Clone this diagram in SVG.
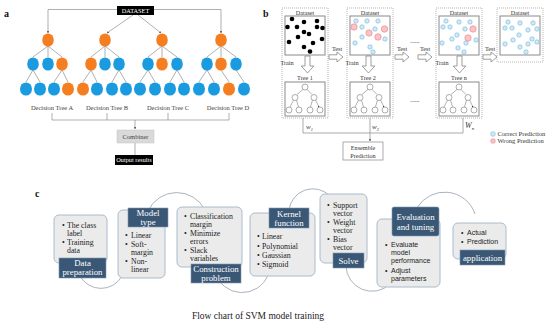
<svg xmlns="http://www.w3.org/2000/svg" width="550" height="324" viewBox="0 0 550 324">
<style>
text{font-family:"Liberation Serif","Times New Roman",serif;}
.pl{font-size:10px;font-weight:bold;fill:#111;}
.b{fill:#1a9be0;}
.o{fill:#f57f20;}
.e{stroke:#7a7a7a;stroke-width:0.6;fill:none;}
.ta{font-size:6.5px;fill:#444;text-anchor:middle;}
.wt{fill:#fff;text-anchor:middle;}
.dot{stroke:#999;stroke-width:0.7;stroke-dasharray:1 1;fill:#fff;}
.in{stroke:#8a8a8a;stroke-width:1;fill:#fff;}
.bk{fill:#000;}
.cb{fill:#d3eaf6;stroke:#6fb6dc;stroke-width:0.6;}
.cr{fill:#f8c4c6;stroke:#ec7f86;stroke-width:0.6;}
.tn{fill:#fff;stroke:#777;stroke-width:0.6;}
.tl{stroke:#666;stroke-width:0.5;fill:none;}
.tb{font-size:6.2px;fill:#333;text-anchor:middle;}
.ar{fill:#fff;stroke:#777;stroke-width:0.7;}
.cn{stroke:#888;stroke-width:0.7;fill:none;}
.box{fill:#ebebeb;stroke:#a9bccd;stroke-width:1;}
.lab{fill:#3a5876;stroke:#7f98b0;stroke-width:0.6;}
.lt{font-size:8.8px;fill:#fff;text-anchor:middle;}
.bt{font-size:7.8px;fill:#222;}
.bs{font-family:"Liberation Sans",Arial,sans-serif;font-size:7px;fill:#222;}
.arc{stroke:#aab4be;stroke-width:1;fill:none;}
</style>
<defs>
<marker id="ah" viewBox="0 0 6 6" refX="5" refY="3" markerWidth="4" markerHeight="4" orient="auto"><path d="M0 0L6 3L0 6Z" fill="#666"/></marker>
<marker id="sh" viewBox="0 0 6 6" refX="5" refY="3" markerWidth="3" markerHeight="3" orient="auto"><path d="M0 0L6 3L0 6Z" fill="#222"/></marker>
<g id="minitree">
<path class="tl" d="M21 89.5L15 94.5M25 89.5L30 94.5M11.5 100L8 107M14.5 100L16.5 107M30.5 100L28.5 107M33.5 100L37 107" marker-end="url(#sh)"/>
<circle class="tn" cx="23" cy="87" r="3"/>
<circle class="tn" cx="13" cy="97.5" r="3"/>
<circle class="tn" cx="32" cy="97.5" r="3"/>
<circle class="tn" cx="7" cy="110" r="3"/>
<circle class="tn" cx="17" cy="110" r="3"/>
<circle class="tn" cx="28" cy="110" r="3"/>
<circle class="tn" cx="38" cy="110" r="3"/>
</g>
</defs>
<rect width="550" height="324" fill="#fff"/>

<!-- Panel a -->
<text class="pl" x="4" y="17">a</text>
<g id="connectors-a">
<path class="e" d="M117 9.5H48V33" marker-end="url(#ah)"/>
<path class="e" d="M154 9.5H221V33" marker-end="url(#ah)"/>
<path class="e" d="M133 15L107 33" marker-end="url(#ah)"/>
<path class="e" d="M138 15L161 33" marker-end="url(#ah)"/>
<path class="e" d="M48 46L33 57M48 46V57M48 46L62 57M33 70L26 82M33 70L40 82M62 70L54 82M62 70L68 82"/>
<path class="e" d="M105 46L91 57M105 46V57M105 46L119 57M91 70L83 82M91 70L97 82M119 70L112 82M119 70L126 82"/>
<path class="e" d="M162 46L148 57M162 46V57M162 46L177 57M148 70L140 82M148 70L155 82M177 70L170 82M177 70L184 82"/>
<path class="e" d="M221 46L207 57M221 46V57M221 46L236 57M207 70L199 82M207 70L214 82M221 70L229 82M236 70L244 82"/>
<path class="e" d="M52 113V120M107 113V120M168 113V120M229 113V120M52 120H229"/>
<path class="e" d="M135 120V129" marker-end="url(#ah)"/>
<path class="e" d="M135 143V155"/>
</g>
<g id="dataset-a"><rect x="117" y="6" width="37" height="9" class="bk"/><text class="wt" x="135.5" y="12.8" font-size="6.3">DATASET</text></g>
<g id="tree-a">
<ellipse class="o" cx="48" cy="40" rx="5.8" ry="6.6"/>
<ellipse class="b" cx="33" cy="64" rx="5.8" ry="6.6"/><ellipse class="b" cx="48" cy="64" rx="5.8" ry="6.6"/><ellipse class="o" cx="62" cy="64" rx="5.8" ry="6.6"/>
<ellipse class="b" cx="26" cy="89" rx="6" ry="6.6"/><ellipse class="b" cx="40" cy="89" rx="6" ry="6.6"/><ellipse class="b" cx="54" cy="89" rx="6" ry="6.6"/><ellipse class="o" cx="68" cy="89" rx="6" ry="6.6"/>
<text class="ta" x="52" y="109.5">Decision Tree A</text>
</g>
<g id="tree-b">
<ellipse class="o" cx="105" cy="40" rx="5.8" ry="6.6"/>
<ellipse class="o" cx="91" cy="64" rx="5.8" ry="6.6"/><ellipse class="b" cx="105" cy="64" rx="5.8" ry="6.6"/><ellipse class="b" cx="119" cy="64" rx="5.8" ry="6.6"/>
<ellipse class="o" cx="83" cy="89" rx="6" ry="6.6"/><ellipse class="b" cx="97" cy="89" rx="6" ry="6.6"/><ellipse class="b" cx="112" cy="89" rx="6" ry="6.6"/><ellipse class="b" cx="126" cy="89" rx="6" ry="6.6"/>
<text class="ta" x="107" y="109.5">Decision Tree B</text>
</g>
<g id="tree-c">
<ellipse class="o" cx="162" cy="40" rx="5.8" ry="6.6"/>
<ellipse class="b" cx="148" cy="64" rx="5.8" ry="6.6"/><ellipse class="o" cx="162" cy="64" rx="5.8" ry="6.6"/><ellipse class="b" cx="177" cy="64" rx="5.8" ry="6.6"/>
<ellipse class="b" cx="140" cy="89" rx="6" ry="6.6"/><ellipse class="b" cx="155" cy="89" rx="6" ry="6.6"/><ellipse class="b" cx="170" cy="89" rx="6" ry="6.6"/><ellipse class="b" cx="184" cy="89" rx="6" ry="6.6"/>
<text class="ta" x="168" y="109.5">Decision Tree C</text>
</g>
<g id="tree-d">
<ellipse class="o" cx="221" cy="40" rx="5.8" ry="6.6"/>
<ellipse class="b" cx="207" cy="64" rx="5.8" ry="6.6"/><ellipse class="o" cx="221" cy="64" rx="5.8" ry="6.6"/><ellipse class="b" cx="236" cy="64" rx="5.8" ry="6.6"/>
<ellipse class="b" cx="199" cy="89" rx="6" ry="6.6"/><ellipse class="b" cx="214" cy="89" rx="6" ry="6.6"/><ellipse class="o" cx="229" cy="89" rx="6" ry="6.6"/><ellipse class="b" cx="244" cy="89" rx="6" ry="6.6"/>
<text class="ta" x="228" y="109.5">Decision Tree D</text>
</g>
<g id="combiner"><rect x="117" y="130" width="37" height="13" fill="#d9d9d9" stroke="#c4c4c4" stroke-width="0.5"/><text class="ta" x="135.5" y="138.6" font-size="6.3" fill="#333">Combiner</text></g>
<g id="output"><rect x="115" y="155" width="38" height="10" class="bk"/><text class="wt" x="134" y="162.3" font-size="6.3">Output results</text></g>

<!-- Panel b -->
<text class="pl" x="263" y="17">b</text>
<g id="col1">
<rect class="dot" x="282" y="8" width="46" height="110"/>
<rect class="in" x="285" y="16" width="40" height="39"/>
<text class="tb" x="305" y="15" font-size="6.5">Dataset</text>
<g class="bk">
<circle cx="292" cy="19" r="2.3"/><circle cx="304" cy="22" r="2.3"/><circle cx="317" cy="21" r="2.3"/><circle cx="287.5" cy="27" r="2.3"/><circle cx="297" cy="27" r="2.3"/><circle cx="304" cy="32" r="2.3"/><circle cx="309" cy="34" r="2.3"/><circle cx="317" cy="27" r="2.3"/><circle cx="322.5" cy="28" r="2.3"/><circle cx="298" cy="37" r="2.3"/><circle cx="322" cy="39" r="2.3"/><circle cx="289" cy="42" r="2.3"/><circle cx="304" cy="47" r="2.3"/><circle cx="313" cy="43" r="2.3"/><circle cx="310" cy="51.5" r="2.3"/>
</g>
<path class="ar" d="M305 56H310V66H313.8L307.5 73L301.2 66H305Z"/>
<text class="tb" x="287" y="65" text-anchor="start">Train</text>
<text class="tb" x="305" y="79.5">Tree 1</text>
<rect class="in" x="285" y="82" width="40" height="34"/>
<use href="#minitree" x="282"/>
</g>
<g id="col2">
<rect class="dot" x="347" y="8" width="46" height="110"/>
<rect class="in" x="350" y="16" width="40" height="39"/>
<text class="tb" x="370" y="15" font-size="6.5">Dataset</text>
<circle class="cb" cx="356" cy="21" r="2.2"/><circle class="cb" cx="367" cy="21" r="2.2"/><circle class="cb" cx="378" cy="21" r="2.2"/><circle class="cb" cx="362" cy="27" r="2.2"/><circle class="cb" cx="375" cy="29" r="2.2"/><circle class="cb" cx="355" cy="43" r="2.2"/><circle class="cb" cx="362" cy="37" r="2.2"/><circle class="cb" cx="370" cy="47" r="2.2"/><circle class="cb" cx="373" cy="52" r="2.2"/><circle class="cb" cx="385" cy="39" r="2.2"/>
<circle class="cr" cx="354" cy="27" r="3.2"/><circle class="cr" cx="369" cy="33" r="3.2"/><circle class="cr" cx="378" cy="37" r="3.2"/><circle class="cr" cx="384.5" cy="29" r="3.2"/>
<path class="ar" d="M366 56H371V66H374.8L368.5 73L362.2 66H366Z"/>
<text class="tb" x="352" y="65" text-anchor="start">Train</text>
<text class="tb" x="368" y="79.5">Tree 2</text>
<rect class="in" x="350" y="82" width="40" height="34"/>
<use href="#minitree" x="347"/>
</g>
<g id="col3">
<rect class="dot" x="436" y="8" width="46" height="110"/>
<rect class="in" x="439" y="16" width="40" height="39"/>
<text class="tb" x="459" y="15" font-size="6.5">Dataset</text>
<circle class="cb" cx="446" cy="21" r="2.2"/><circle class="cb" cx="459" cy="22" r="2.2"/><circle class="cb" cx="470" cy="22" r="2.2"/><circle class="cb" cx="443" cy="27" r="2.2"/><circle class="cb" cx="450" cy="27" r="2.2"/><circle class="cb" cx="465" cy="29" r="2.2"/><circle class="cb" cx="457" cy="35" r="2.2"/><circle class="cb" cx="452" cy="39" r="2.2"/><circle class="cb" cx="466" cy="43" r="2.2"/><circle class="cb" cx="476" cy="40" r="2.2"/><circle class="cb" cx="442" cy="43" r="2.2"/><circle class="cb" cx="458" cy="48" r="2.2"/><circle class="cb" cx="464" cy="52" r="2.2"/>
<circle class="cr" cx="473" cy="29" r="3.2"/><circle class="cr" cx="468" cy="38" r="3.2"/>
<path class="ar" d="M457 56H462V66H465.8L459.5 73L453.2 66H457Z"/>
<text class="tb" x="442" y="65" text-anchor="start">Train</text>
<text class="tb" x="459" y="79.5">Tree n</text>
<rect class="in" x="439" y="82" width="40" height="34"/>
<use href="#minitree" x="436"/>
</g>
<g id="col4">
<rect class="dot" x="497" y="8" width="46" height="54"/>
<rect class="in" x="500" y="16" width="40" height="39"/>
<text class="tb" x="520" y="15" font-size="6.5">Dataset</text>
<circle class="cb" cx="508" cy="22" r="2.2"/><circle class="cb" cx="520" cy="23" r="2.2"/><circle class="cb" cx="533" cy="23" r="2.2"/><circle class="cb" cx="505" cy="28" r="2.2"/><circle class="cb" cx="512" cy="28" r="2.2"/><circle class="cb" cx="528" cy="30" r="2.2"/><circle class="cb" cx="537" cy="29" r="2.2"/><circle class="cb" cx="519" cy="35" r="2.2"/><circle class="cb" cx="513" cy="40" r="2.2"/><circle class="cb" cx="532" cy="39" r="2.2"/><circle class="cb" cx="537" cy="42" r="2.2"/><circle class="cb" cx="505" cy="44" r="2.2"/><circle class="cb" cx="528" cy="44" r="2.2"/><circle class="cb" cx="520" cy="47" r="2.2"/><circle class="cb" cx="526" cy="52" r="2.2"/>
</g>
<g id="connectors-b">
<path class="ar" d="M329 54.8H337V52L343 57L337 62V59.2H329Z"/>
<path class="ar" d="M395 54.8H403V52L409 57L403 62V59.2H395Z"/>
<path class="ar" d="M418 54.8H426V52L432 57L426 62V59.2H418Z"/>
<path class="ar" d="M483 54.8H491V52L497 57L491 62V59.2H483Z"/>
<path class="cn" d="M303 118V133H463V118"/>
<path class="cn" d="M370 118V141" marker-end="url(#ah)"/>
</g>
<text class="tb" x="337" y="51">Test</text>
<text class="tb" x="402" y="51">Test</text>
<text class="tb" x="425" y="51">Test</text>
<text class="tb" x="490" y="51">Test</text>
<text class="tb" x="415" y="43">......</text>
<text class="tb" x="415" y="102">......</text>
<text x="306" y="129" font-size="7" font-style="italic" fill="#333">w<tspan font-size="4.5" dy="1.5">1</tspan></text>
<text x="372" y="129" font-size="7" font-style="italic" fill="#333">w<tspan font-size="4.5" dy="1.5">2</tspan></text>
<text x="465" y="128" font-size="8" font-style="italic" fill="#333">W<tspan font-size="5" dy="1.8">n</tspan></text>
<g id="ensemble"><rect x="343" y="142" width="40" height="18" fill="#fff" stroke="#888" stroke-width="0.7"/><text class="tb" x="363" y="150" font-size="5.8">Ensemble</text><text class="tb" x="363" y="157.5" font-size="5.8">Prediction</text></g>
<g id="legend">
<circle class="cb" cx="493" cy="134" r="2.3"/><text x="497.5" y="136.3" font-size="6.5" fill="#333">Correct Prediction</text>
<circle class="cr" cx="493" cy="141" r="2.3"/><text x="497.5" y="143.3" font-size="6.5" fill="#333">Wrong Prediction</text>
</g>

<!-- Panel c -->
<text class="pl" x="35" y="197">c</text>
<g id="connectors-c">
<path class="arc" d="M80 276A24 24 0 0 0 122 276"/>
<path class="arc" d="M148 211A31.6 31.6 0 0 1 205 210"/>
<path class="arc" d="M215 272A28 28 0 0 0 268 275"/>
<path class="arc" d="M289 210A24 24 0 0 1 330 196"/>
<path class="arc" d="M346 266A26 26 0 0 0 390 284"/>
<path class="arc" d="M417 208A32 32 0 0 1 475 214"/>
</g>
<g id="data-preparation">
<rect class="box" x="54" y="215" width="53" height="48" rx="5"/>
<text class="bt" x="62" y="228">•</text><text class="bt" x="67" y="228">The class</text>
<text class="bt" x="67" y="236">label</text>
<text class="bt" x="62" y="245">•</text><text class="bt" x="67" y="245">Training</text>
<text class="bt" x="67" y="253">data</text>
<rect class="lab" x="59" y="258" width="47" height="20"/>
<text class="lt" x="82.5" y="266.3">Data</text><text class="lt" x="82.5" y="275.3">preparation</text>
</g>
<g id="model-type">
<rect class="box" x="118" y="210" width="47" height="68" rx="5"/>
<rect class="lab" x="128" y="208" width="40" height="19"/>
<text class="lt" x="148" y="216">Model</text><text class="lt" x="148" y="225">type</text>
<text class="bt" x="125" y="238">•</text><text class="bt" x="131" y="238">Linear</text>
<text class="bt" x="125" y="246.5">•</text><text class="bt" x="131" y="246.5">Soft-</text>
<text class="bt" x="131" y="255">margin</text>
<text class="bt" x="125" y="263.5">•</text><text class="bt" x="131" y="263.5">Non-</text>
<text class="bt" x="131" y="272">linear</text>
</g>
<g id="construction-problem">
<rect class="box" x="177" y="207" width="65" height="60" rx="5"/>
<text class="bt" x="184" y="219">•</text><text class="bt" x="190" y="219">Classification</text>
<text class="bt" x="190" y="227">margin</text>
<text class="bt" x="184" y="236">•</text><text class="bt" x="190" y="236">Minimize</text>
<text class="bt" x="190" y="244">errors</text>
<text class="bt" x="184" y="253">•</text><text class="bt" x="190" y="253">Slack</text>
<text class="bt" x="190" y="261">variables</text>
<rect class="lab" x="191" y="264" width="50" height="19"/>
<text class="lt" x="216" y="271.5">Construction</text><text class="lt" x="216" y="280.5">problem</text>
</g>
<g id="kernel-function">
<rect class="box" x="250" y="213" width="65" height="63" rx="5"/>
<rect class="lab" x="269" y="208" width="40" height="20"/>
<text class="lt" x="289" y="216.5">Kernel</text><text class="lt" x="289" y="225.5">function</text>
<text class="bt" x="257" y="239">•</text><text class="bt" x="262" y="239">Linear</text>
<text class="bt" x="257" y="248.5">•</text><text class="bt" x="262" y="248.5">Polynomial</text>
<text class="bt" x="257" y="258">•</text><text class="bt" x="262" y="258">Gaussian</text>
<text class="bt" x="257" y="267">•</text><text class="bt" x="262" y="267">Sigmoid</text>
</g>
<g id="solve">
<rect class="box" x="320" y="194" width="47" height="69" rx="5"/>
<text class="bt" x="327" y="208">•</text><text class="bt" x="333" y="208">Support</text>
<text class="bt" x="333" y="216">vector</text>
<text class="bt" x="327" y="225">•</text><text class="bt" x="333" y="225">Weight</text>
<text class="bt" x="333" y="233">vector</text>
<text class="bt" x="327" y="242">•</text><text class="bt" x="333" y="242">Bias</text>
<text class="bt" x="333" y="250">vector</text>
<rect class="lab" x="333" y="253" width="31" height="15"/>
<text class="lt" x="348.5" y="263.5">Solve</text>
</g>
<g id="evaluation-tuning">
<rect class="box" x="377" y="219" width="63" height="68" rx="5"/>
<rect class="lab" x="392" y="207" width="47" height="29" rx="2"/>
<text class="lt" x="415.5" y="220">Evaluation</text><text class="lt" x="415.5" y="229.5">and tuning</text>
<text class="bs" x="385" y="247">•</text><text class="bs" x="391" y="247">Evaluate</text>
<text class="bs" x="391" y="255">model</text>
<text class="bs" x="391" y="263">performance</text>
<text class="bs" x="385" y="273">•</text><text class="bs" x="391" y="273">Adjust</text>
<text class="bs" x="391" y="281">parameters</text>
</g>
<g id="application">
<rect class="box" x="453" y="223" width="53" height="36" rx="5"/>
<text class="bs" x="461" y="235">•</text><text class="bs" x="467" y="235">Actual</text>
<text class="bs" x="461" y="244">•</text><text class="bs" x="467" y="244">Prediction</text>
<rect class="lab" x="460" y="250" width="45" height="15"/>
<text class="lt" x="482.5" y="260.5">application</text>
</g>
<text x="258" y="319" font-size="9.5" fill="#222" text-anchor="middle">Flow chart of SVM model training</text>
</svg>
